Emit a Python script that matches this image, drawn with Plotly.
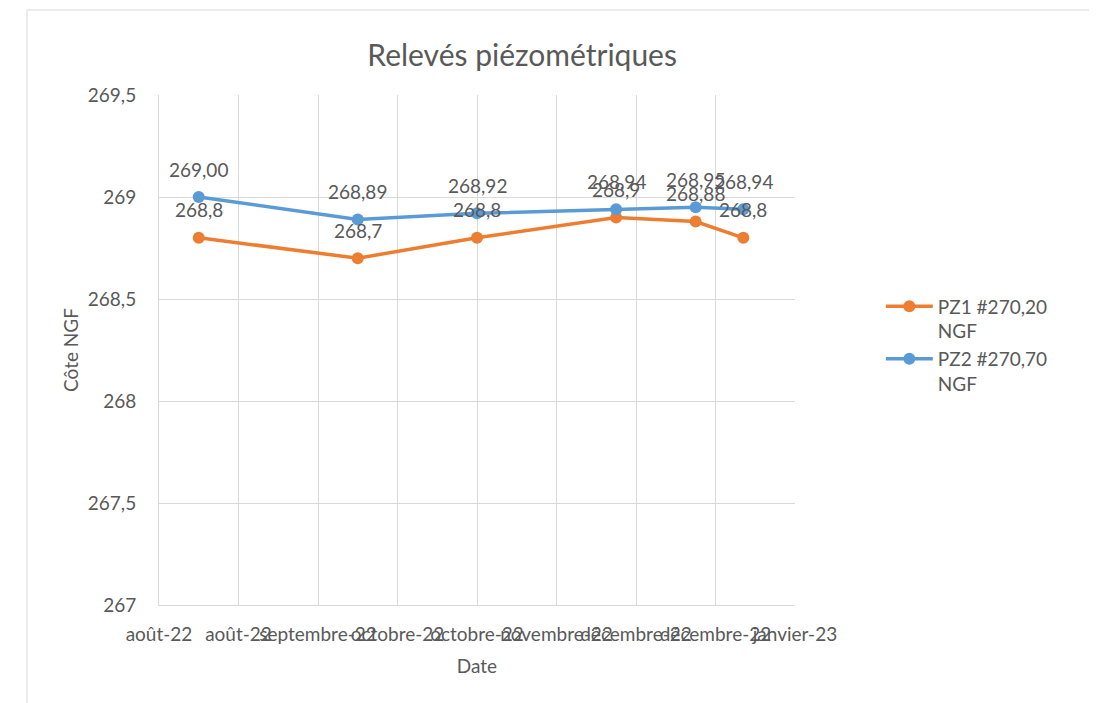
import plotly.graph_objects as go

# ---- data ----
dates = ["2022-08-20", "2022-09-29", "2022-10-29", "2022-12-03", "2022-12-23", "2023-01-04"]
pz1_values = [268.8, 268.7, 268.8, 268.9, 268.88, 268.8]
pz2_values = [269.00, 268.89, 268.92, 268.94, 268.95, 268.94]
pz1_name = "PZ1 #270,20<br>NGF"
pz2_name = "PZ2 #270,70<br>NGF"
tick_dates = ["2022-08-10", "2022-08-30", "2022-09-19", "2022-10-09", "2022-10-29",
              "2022-11-18", "2022-12-08", "2022-12-28", "2023-01-17"]
tick_labels = ["août-22", "août-22", "septembre-22", "octobre-22", "octobre-22",
               "novembre-22", "décembre-22", "décembre-22", "janvier-23"]
y_ticks = [267, 267.5, 268, 268.5, 269, 269.5]

pz1_labels = [f"{v:g}".replace(".", ",") for v in pz1_values]
pz2_labels = [f"{v:.2f}".replace(".", ",") for v in pz2_values]

FONT = "Lato"
GREY = "#595959"
GRID = "#d9d9d9"
ORANGE = "#ED7D31"
BLUE = "#5B9BD5"

W, H = 1089, 695

fig = go.Figure()
fig.add_trace(go.Scatter(x=dates, y=pz1_values, mode="lines+markers", name=pz1_name,
                         line=dict(color=ORANGE, width=3.5),
                         marker=dict(color=ORANGE, size=12)))
fig.add_trace(go.Scatter(x=dates, y=pz2_values, mode="lines+markers", name=pz2_name,
                         line=dict(color=BLUE, width=3.5),
                         marker=dict(color=BLUE, size=12)))

for series_vals, series_labels in ((pz1_values, pz1_labels), (pz2_values, pz2_labels)):
    for d, v, t in zip(dates, series_vals, series_labels):
        fig.add_annotation(x=d, y=v, text=t, showarrow=False, yshift=28,
                           font=dict(family=FONT, size=19, color=GREY))

fig.add_shape(type="rect", xref="paper", yref="paper",
              x0=-0.2075, x1=1.4686, y0=-0.4, y1=1.1667,
              line=dict(color=GRID, width=1), layer="below")

fig.update_layout(
    width=W, height=H,
    margin=dict(l=151, r=302, t=87, b=98),
    paper_bgcolor="white", plot_bgcolor="white",
    separators=", ",
    font=dict(family=FONT, size=19, color=GREY),
    title=dict(text="Relevés piézométriques", x=0.571, xref="paper", xanchor="center",
               y=1 - 47 / H, yref="container", yanchor="middle",
               font=dict(family=FONT, size=30, color=GREY)),
    showlegend=True,
    legend=dict(x=1.135, xanchor="left", y=0.51, yanchor="middle", valign="top",
                itemwidth=47,
                font=dict(family=FONT, size=19, color=GREY), bgcolor="rgba(0,0,0,0)"),
    xaxis=dict(type="date", range=[tick_dates[0], tick_dates[-1]],
               tickmode="array", tickvals=tick_dates, ticktext=tick_labels,
               tickangle=0, showgrid=True, gridcolor=GRID, gridwidth=1,
               showline=True, linecolor=GRID, linewidth=1, zeroline=False,
               ticks="", ticklabelstandoff=12,
               title=dict(text="Date", standoff=15, font=dict(family=FONT, size=19, color=GREY))),
    yaxis=dict(range=[267, 269.5], tickmode="array", tickvals=y_ticks,
               showgrid=True, gridcolor=GRID, gridwidth=1,
               showline=True, linecolor=GRID, linewidth=1, zeroline=False,
               ticks="", ticklabelstandoff=18,
               title=dict(text="Côte NGF", standoff=4, font=dict(family=FONT, size=19, color=GREY))),
)

fig.write_html("out.html")
